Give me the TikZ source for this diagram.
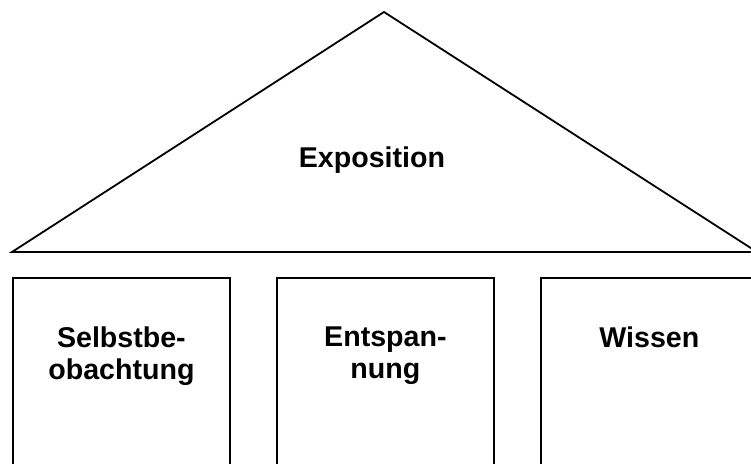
\documentclass[tikz,border=0pt]{standalone}
\usepackage{fontspec}
\setmainfont{Liberation Sans}
\usetikzlibrary{positioning}

\begin{document}
\begin{tikzpicture}[x=0.5pt,y=-0.5pt,line width=0.9pt,
  pillar/.style={rectangle,draw=black,minimum width=108.5pt,minimum height=100pt,anchor=north west,inner sep=0pt},
  ptext/.style={align=center,inner sep=0pt,font=\fontsize{14.3}{15.8}\selectfont\bfseries}]
  \useasboundingbox (0,0) rectangle (751,464);
  \clip (0,0) rectangle (751,464);
  % roof
  \coordinate (apex) at (384,12);
  \coordinate (eaveL) at (12,252);
  \coordinate (eaveR) at (757,252);
  \draw (eaveL) -- (apex) -- (eaveR) -- cycle;
  \node[ptext,anchor=base] (expo) at (372,168) {Exposition};
  % pillars
  \node[pillar] (selbst) at (12,277) {};
  \node[pillar] (entsp) at (276,277) {};
  \node[pillar] (wissen) at (540,277) {};
  \node[ptext,below=24.5pt of selbst.north] (selbsttxt) {Selbstbe-\\obachtung};
  \node[ptext,below=24.5pt of entsp.north] (entsptxt) {Entspan-\\nung};
  \node[ptext,below=24.5pt of wissen.north] (wissentxt) {Wissen};
\end{tikzpicture}
\end{document}
